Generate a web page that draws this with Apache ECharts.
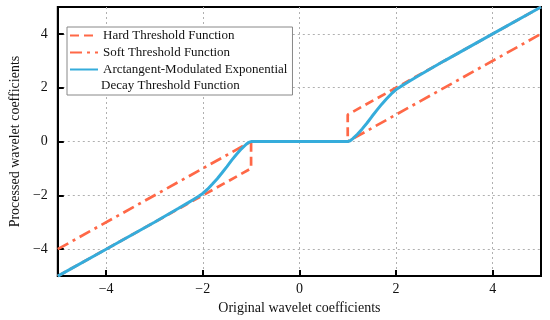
<!DOCTYPE html>
<html>
<head>
<meta charset="utf-8">
<script src="https://cdn.jsdelivr.net/npm/echarts@6/dist/echarts.min.js"></script>
<style>
  html, body { margin: 0; padding: 0; background: #fff; }
  #chart { width: 550px; height: 320px; }
</style>
</head>
<body>
<div id="chart"></div>
<script>
// ---- data ----
const xTickValues = [-4, -2, 0, 2, 4];
const yTickValues = [-4, -2, 0, 2, 4];

const hardX = [-5, -1, -1, 1, 1, 5];
const hardY = [-5, -1, 0, 0, 1, 5];

const softX = [-5, -1, 1, 5];
const softY = [-4, 0, 0, 4];

const blueX = [-5, -4, -3, -2.5, -2.3, -2.2, -2.1, -2.0, -1.9, -1.8, -1.7, -1.6, -1.5, -1.4, -1.3, -1.2, -1.1, -1.05, -1.0,
               1.0, 1.05, 1.1, 1.2, 1.3, 1.4, 1.5, 1.6, 1.7, 1.8, 1.9, 2.0, 2.1, 2.2, 2.3, 2.5, 3, 4, 5];
const blueY = [-5, -4, -3, -2.48, -2.27, -2.16, -2.05, -1.93, -1.77, -1.58, -1.38, -1.16, -0.93, -0.69, -0.47, -0.27, -0.1, -0.03, 0,
               0, 0.03, 0.1, 0.27, 0.47, 0.69, 0.93, 1.16, 1.38, 1.58, 1.77, 1.93, 2.05, 2.16, 2.27, 2.48, 3, 4, 5];

const names = {
  hard: 'Hard Threshold Function',
  soft: 'Soft Threshold Function',
  blue: 'Arctangent-Modulated Exponential\nDecay Threshold Function'
};

const zip = (xs, ys) => xs.map((x, i) => [x, ys[i]]);
const fmt = ticks => v => ticks.indexOf(v) >= 0 ? String(v).replace('-', '\u2212') : '';

const RED = '#ff6847';
const BLUE = '#35acdb';
const FONT = '"Liberation Serif", "Times New Roman", serif';

const axisCommon = {
  type: 'value', min: -5, max: 5, splitNumber: 5,
  nameLocation: 'middle',
  nameTextStyle: { fontFamily: FONT, fontSize: 14, color: '#111' },
  axisLine: { show: true, onZero: false, lineStyle: { color: '#000', width: 2 } },
  axisTick: { show: true, inside: true, length: 6, lineStyle: { color: '#000', width: 2 } },
  splitLine: { show: true, showMinLine: false, showMaxLine: false,
               lineStyle: { color: '#b0b0b0', width: 1, type: [2, 3] } }
};

const chart = echarts.init(document.getElementById('chart'), null, { renderer: 'canvas' });
chart.setOption({
  animation: false,
  backgroundColor: '#fff',
  textStyle: { fontFamily: FONT },
  grid: {
    left: 41, top: 7, width: 500, height: 270,
    show: true, borderColor: '#000', borderWidth: 2, backgroundColor: 'transparent'
  },
  xAxis: Object.assign({}, axisCommon, {
    name: 'Original wavelet coefficients', nameGap: 21,
    axisLabel: { formatter: fmt(xTickValues), fontFamily: FONT, fontSize: 14, color: '#111', margin: 6,
                 showMinLabel: false, showMaxLabel: false }
  }),
  yAxis: Object.assign({}, axisCommon, {
    name: 'Processed wavelet coefficients', nameGap: 23,
    axisLabel: { formatter: fmt(yTickValues), fontFamily: FONT, fontSize: 14, color: '#111', margin: 10,
                 showMinLabel: false, showMaxLabel: false }
  }),
  legend: {
    orient: 'vertical', left: 67, top: 27,
    padding: [2, 5, 19, 2],
    itemWidth: 28, itemHeight: 12, itemGap: 4,
    borderColor: '#888', borderWidth: 1, borderRadius: 0,
    backgroundColor: '#fff',
    itemStyle: { opacity: 0 },
    data: [names.hard, names.soft, names.blue],
    formatter: n => n.split('\n')[0],
    textStyle: { fontFamily: FONT, fontSize: 13, color: '#111', lineHeight: 13 }
  },
  graphic: [{
    type: 'text', left: 101, top: 79, z: 100,
    style: { text: names.blue.split('\n')[1], font: '13px ' + FONT, fill: '#111' }
  }],
  series: [
    {
      name: names.hard, type: 'line', data: zip(hardX, hardY), showSymbol: false, symbol: 'none',
      lineStyle: { color: RED, width: 2.7, type: [9, 5] }, itemStyle: { color: RED }, z: 2
    },
    {
      name: names.soft, type: 'line', data: zip(softX, softY), showSymbol: false, symbol: 'none',
      lineStyle: { color: RED, width: 2.7, type: [12, 5, 3, 5] }, itemStyle: { color: RED }, z: 3
    },
    {
      name: names.blue, type: 'line', data: zip(blueX, blueY), showSymbol: false, symbol: 'none',
      lineStyle: { color: BLUE, width: 3 }, itemStyle: { color: BLUE }, z: 4
    }
  ]
});
</script>
</body>
</html>
